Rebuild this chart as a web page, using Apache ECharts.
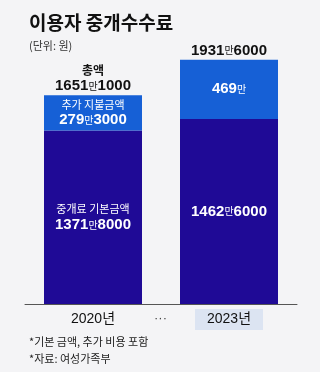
<!DOCTYPE html>
<html><head><meta charset="utf-8">
<script src="https://cdn.jsdelivr.net/npm/echarts@6/dist/echarts.min.js"></script>
<style>html,body{margin:0;padding:0;background:#f4f4f6}#c{width:320px;height:372px}</style>
</head><body><div id="c"></div>
<script>
const categories = ['2020년', '2023년'];
const baseFee = [13718000, 14626000];      // 중개료 기본금액 (원)
const extraFee = [2793000, 4690000];       // 추가 지불금액 (원)
const baseHeaders = ['중개료 기본금액', ''];
const extraHeaders = ['추가 지불금액', ''];
const totalHeaders = ['총액', ''];
const yMax = 20000000;
const notes = ['*기본 금액, 추가 비용 포함', '*자료: 여성가족부'];

const totals = baseFee.map((v, i) => v + extraFee[i]);
const NUM = '"Liberation Sans","Noto Sans CJK KR",sans-serif';
const KR = '"Noto Sans CJK KR",sans-serif';

function won(v) {
  const man = Math.floor(v / 10000), rest = v % 10000;
  return '{n|' + man + '}{m|만}' + (rest ? '{n|' + rest + '}' : '');
}
function richFor(color) {
  return {
    h: { fontFamily: KR, fontSize: 11, color: color, lineHeight: 15 },
    t: { fontFamily: KR, fontSize: 12, fontWeight: 'bold', color: color, lineHeight: 16 },
    n: { fontFamily: NUM, fontSize: 15, fontWeight: 'bold', color: color, lineHeight: 16 },
    m: { fontFamily: KR, fontSize: 10, color: color, lineHeight: 16 }
  };
}

const chart = echarts.init(document.getElementById('c'), null, { renderer: 'canvas' });
chart.setOption({
  backgroundColor: '#f4f4f6',
  animation: false,
  title: [
    { text: '이용자 중개수수료', left: 24, top: 8,
      textStyle: { fontFamily: KR, fontSize: 19, fontWeight: 'bold', color: '#111' } },
    { text: '(단위: 원)', left: 24, top: 35,
      textStyle: { fontFamily: KR, fontSize: 11, fontWeight: 'normal', color: '#333' } },
    { text: notes.join('\n'), left: 24, top: 328,
      textStyle: { fontFamily: KR, fontSize: 11, fontWeight: 'normal', color: '#222', lineHeight: 17 } }
  ],
  grid: { left: 25, right: 23, top: 51, bottom: 68 },
  xAxis: {
    type: 'category', data: categories,
    axisLine: { lineStyle: { color: '#555', width: 1 } },
    axisTick: { show: false },
    axisLabel: {
      margin: 5,
      formatter: (v, i) => i === 1 ? '{hl|' + v + '}' : '{pl|' + v + '}',
      rich: {
        pl: { fontFamily: NUM, fontSize: 14, color: '#111', height: 21, lineHeight: 21 },
        hl: { fontFamily: NUM, fontSize: 14, color: '#111', height: 21, lineHeight: 21,
              width: 68, align: 'center', backgroundColor: '#dce4f2' }
      }
    }
  },
  yAxis: { type: 'value', min: 0, max: yMax, show: false, splitLine: { show: false } },
  graphic: [
    { type: 'text', left: 154, top: 312,
      style: { text: '···', fontSize: 13, fill: '#444', fontFamily: NUM } }
  ],
  series: [
    { name: '중개료 기본금액', type: 'bar', stack: 'fee', barWidth: 98, data: baseFee,
      itemStyle: { color: '#1f0a96' },
      label: { show: true, position: 'inside',
        formatter: p => (baseHeaders[p.dataIndex] ? '{h|' + baseHeaders[p.dataIndex] + '}\n' : '') + won(p.value),
        rich: richFor('#fff') } },
    { name: '추가 지불금액', type: 'bar', stack: 'fee', barWidth: 98, data: extraFee,
      itemStyle: { color: '#1660d6' },
      label: { show: true, position: 'inside',
        formatter: p => (extraHeaders[p.dataIndex] ? '{h|' + extraHeaders[p.dataIndex] + '}\n' : '') + won(p.value),
        rich: richFor('#fff') } },
    { name: '총액', type: 'bar', barGap: '-100%', barWidth: 98, data: totals, z: 1,
      itemStyle: { color: 'rgba(0,0,0,0)' },
      label: { show: true, position: 'top', distance: 1,
        formatter: p => (totalHeaders[p.dataIndex] ? '{t|' + totalHeaders[p.dataIndex] + '}\n' : '') + won(p.value),
        rich: richFor('#111') } }
  ]
});
</script></body></html>
